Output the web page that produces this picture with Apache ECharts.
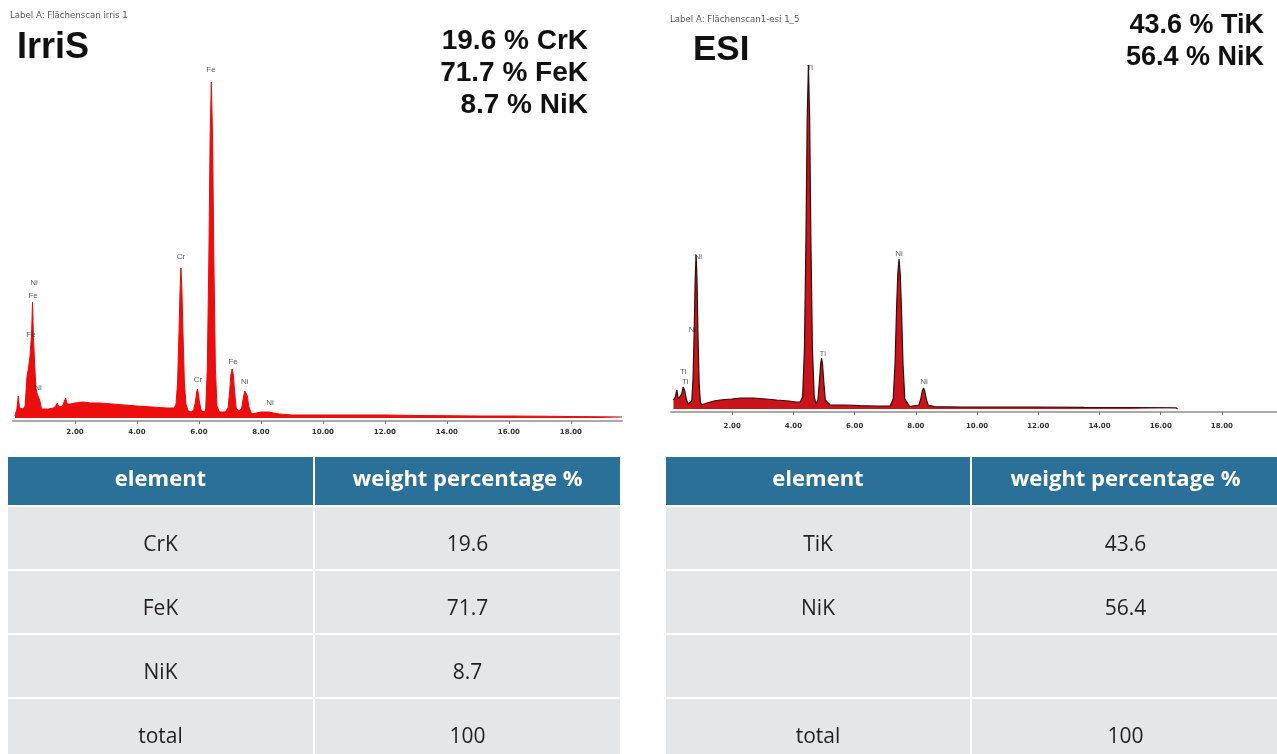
<!DOCTYPE html>
<html><head><meta charset="utf-8">
<script src="https://cdn.jsdelivr.net/npm/echarts@6/dist/echarts.min.js"></script>
<style>html,body{margin:0;padding:0;background:#fff}#c{width:1277px;height:754px}</style>
</head><body><div id="c"></div>
<script>
// ---------- DATA ----------
const xTickValues = [2, 4, 6, 8, 10, 12, 14, 16, 18];

// IrriS spectrum: [energy keV, counts (arb.)]
const irrisSpectrum = [
  [0.06,2],[0.12,8],[0.17,22],[0.21,10],[0.26,8],[0.33,9],[0.39,12],[0.45,41],[0.50,50],[0.55,62],
  [0.60,85],[0.63,116],[0.66,80],[0.70,52],[0.74,30],[0.78,24],[0.82,21],[0.86,18],[0.92,9],[1.00,9],
  [1.15,9],[1.30,10],[1.38,12],[1.43,15],[1.48,11],[1.60,12],[1.66,17],[1.70,20],[1.75,14],[1.85,14],
  [2.00,15],[2.27,16],[2.50,15],[2.80,15],[3.20,14],[3.60,13],[4.00,12],[4.50,11],[4.96,10],[5.20,10],
  [5.26,14],[5.31,35],[5.36,90],[5.39,128],[5.42,150],[5.45,128],[5.48,90],[5.53,35],[5.58,14],[5.65,7],[5.75,6],
  [5.83,8],[5.88,15],[5.92,25],[5.95,29],[5.98,25],[6.02,15],[6.08,7],[6.20,6],
  [6.22,10],[6.27,50],[6.32,160],[6.36,280],[6.40,336],[6.44,280],[6.48,160],[6.53,50],[6.58,12],[6.66,6],[6.85,6],
  [6.94,10],[6.99,26],[7.03,43],[7.07,49],[7.11,43],[7.15,26],[7.20,10],[7.30,7],
  [7.38,10],[7.43,20],[7.48,27],[7.52,28],[7.56,22],[7.61,11],[7.70,4],
  [7.85,5],[8.00,6],[8.15,6],[8.26,6],[8.40,5],[8.60,4],[9.00,3],[10.0,3],[11.0,3],[12.0,3],
  [13.0,2.5],[14.0,2.3],[15.0,2],[16.0,2],[17.0,1.8],[18.0,1.5],[19.0,1.2],[19.65,1]
];
// ESI spectrum
const esiSpectrum = [
  [0.08,9],[0.14,12],[0.19,19],[0.24,10],[0.30,9],[0.35,15],[0.40,22],[0.45,18],[0.50,10],[0.56,5],
  [0.62,4],[0.68,8],[0.72,30],[0.76,80],[0.79,130],[0.82,154],[0.85,130],[0.88,75],[0.92,25],[0.96,7],
  [1.00,4],[1.17,6],[1.40,8],[1.60,9],[1.98,10],[2.30,11],[2.69,11],[3.10,10],[3.45,9],[3.85,8],[4.10,7],[4.22,7],
  [4.30,12],[4.36,60],[4.41,170],[4.45,290],[4.49,344],[4.53,290],[4.57,170],[4.62,60],[4.68,12],[4.74,5],
  [4.80,9],[4.85,28],[4.89,45],[4.92,51],[4.95,45],[4.99,28],[5.04,9],[5.20,4],[5.70,4],[6.18,3.3],[6.70,3],[7.16,3],
  [7.26,10],[7.32,45],[7.37,100],[7.41,135],[7.45,150],[7.49,135],[7.53,100],[7.58,45],[7.64,10],[7.80,2.5],
  [8.10,4],[8.16,10],[8.21,18],[8.25,21],[8.29,18],[8.34,10],[8.40,4],[8.60,2.3],[9.5,2],[10.5,2],
  [12.0,2],[13.5,1.6],[15.0,1.5],[16.5,1.2],[16.55,0]
];

// peak annotations: [energy keV, counts level, element]
const irrisPeakLabels = [
  [6.39,348,'Fe'],[5.42,161,'Cr'],[5.97,38,'Cr'],[7.10,56,'Fe'],[7.48,36,'Ni'],[8.29,15,'Ni'],
  [0.68,135,'Ni'],[0.65,122,'Fe'],[0.58,83,'Fe'],[0.81,30,'Ni']
];
const esiPeakLabels = [
  [4.54,341,'Ti'],[4.96,55,'Ti'],[7.45,155,'Ni'],[8.27,27,'Ni'],
  [0.89,152,'Ni'],[0.70,79,'Ni'],[0.40,37,'Ti'],[0.46,27,'Ti']
];

const irrisTitle = 'IrriS';
const esiTitle = 'ESI';
const irrisScanLabel = 'Label A: Flächenscan irris 1';
const esiScanLabel = 'Label A: Flächenscan1-esi 1_5';
const irrisElements = ['CrK', 'FeK', 'NiK'];
const irrisWeights = [19.6, 71.7, 8.7];
const esiElements = ['TiK', 'NiK'];
const esiWeights = [43.6, 56.4];
const tableHeader = ['element', 'weight percentage %'];
const totalLabel = 'total';
const irrisTotal = 100;
const esiTotal = 100;

// ---------- CHART ----------
const chart = echarts.init(document.getElementById('c'), null, {renderer: 'canvas'});

function xAxisCfg(gridIndex, max, margin) {
  return {
    type: 'value', gridIndex: gridIndex, min: 0, max: max, interval: 2,
    axisLine: {onZero: false, lineStyle: {color: '#a9a9a9', width: 2}},
    axisTick: {show: true, length: 3, customValues: xTickValues, lineStyle: {color: '#777', width: 1}},
    axisLabel: {
      customValues: xTickValues, margin: margin,
      formatter: v => (v > 0 && v < 19 && v % 2 === 0) ? v.toFixed(2) : '',
      fontFamily: 'DejaVu Sans', fontWeight: 'bold', fontSize: 7, color: '#333'
    },
    splitLine: {show: false}
  };
}
function yAxisCfg(gridIndex, max) {
  return {type: 'value', gridIndex: gridIndex, min: -3, max: max, show: false, splitLine: {show: false}};
}
function labelSeries(idx, arr) {
  return {
    type: 'scatter', xAxisIndex: idx, yAxisIndex: idx, symbol: 'circle', symbolSize: 1,
    itemStyle: {color: 'rgba(0,0,0,0)'}, silent: true, z: 5, clip: false,
    data: arr.map(d => ({value: [d[0], d[1]], name: d[2]})),
    label: {show: true, position: 'inside', formatter: p => p.name,
      fontFamily: 'Liberation Sans', fontSize: 8, color: '#333'}
  };
}

// table graphic builder
function buildTable(x0, colW1, colW2, top, rows) {
  const els = [];
  const headH = 48, rowH = 62, gap = 2;
  const headFill = '#2a7099', rowFill = '#e5e6e8';
  const x1 = x0 + colW1 + gap;
  els.push({type: 'rect', shape: {x: x0, y: top, width: colW1, height: headH}, style: {fill: headFill}});
  els.push({type: 'rect', shape: {x: x1, y: top, width: colW2, height: headH}, style: {fill: headFill}});
  const hf = 'bold 22px "Open Sans"';
  els.push({type: 'text', style: {text: tableHeader[0], x: x0 + colW1 / 2, y: top + headH / 2 - 1, align: 'center', verticalAlign: 'middle', fill: '#fff', font: hf}});
  els.push({type: 'text', style: {text: tableHeader[1], x: x1 + colW2 / 2, y: top + headH / 2 - 1, align: 'center', verticalAlign: 'middle', fill: '#fff', font: hf}});
  let y = top + headH + gap;
  rows.forEach(r => {
    els.push({type: 'rect', shape: {x: x0, y: y, width: colW1, height: rowH}, style: {fill: rowFill}});
    els.push({type: 'rect', shape: {x: x1, y: y, width: colW2, height: rowH}, style: {fill: rowFill}});
    const bf = '21px "Open Sans"';
    els.push({type: 'text', style: {text: r[0], x: x0 + colW1 / 2, y: y + rowH / 2 + 7, align: 'center', verticalAlign: 'middle', fill: '#231f20', font: bf}});
    els.push({type: 'text', style: {text: r[1], x: x1 + colW2 / 2, y: y + rowH / 2 + 7, align: 'center', verticalAlign: 'middle', fill: '#231f20', font: bf}});
    y += rowH + gap;
  });
  return els;
}
const irrisRows = irrisElements.map((e, i) => [e, String(irrisWeights[i])]);
const esiRows = esiElements.map((e, i) => [e, String(esiWeights[i])]);
while (esiRows.length < irrisRows.length) esiRows.push(['', '']);
irrisRows.push([totalLabel, String(irrisTotal)]);
esiRows.push([totalLabel, String(esiTotal)]);

const graphics = [];
// scan labels & titles
graphics.push({type: 'text', style: {text: irrisScanLabel, x: 10, y: 16, verticalAlign: 'middle', fill: '#555', font: '8.6px "DejaVu Sans"'}});
graphics.push({type: 'text', style: {text: esiScanLabel, x: 670, y: 19.5, verticalAlign: 'middle', fill: '#555', font: '8.6px "DejaVu Sans"'}});
graphics.push({type: 'text', style: {text: irrisTitle, x: 17, y: 48, verticalAlign: 'middle', fill: '#111', font: 'bold 36px "Liberation Sans"'}});
graphics.push({type: 'text', style: {text: esiTitle, x: 693, y: 50, verticalAlign: 'middle', fill: '#111', font: 'bold 35px "Liberation Sans"'}});
// composition summary
irrisElements.forEach((e, i) => {
  graphics.push({type: 'text', style: {text: irrisWeights[i] + ' % ' + e, x: 588, y: 41 + i * 32, align: 'right', verticalAlign: 'middle', fill: '#111', font: 'bold 28px "Liberation Sans"'}});
});
esiElements.forEach((e, i) => {
  graphics.push({type: 'text', style: {text: esiWeights[i] + ' % ' + e, x: 1264, y: 26 + i * 32, align: 'right', verticalAlign: 'middle', fill: '#111', font: 'bold 27px "Liberation Sans"'}});
});
graphics.push(...buildTable(8, 305, 305, 457, irrisRows));
graphics.push(...buildTable(666, 304, 307, 457, esiRows));

chart.setOption({
  animation: false,
  backgroundColor: '#ffffff',
  grid: [
    {left: 13, width: 609, top: 61, height: 360},
    {left: 671, width: 606, top: 52, height: 360}
  ],
  xAxis: [xAxisCfg(0, 19.65, 8), xAxisCfg(1, 19.8, 11)],
  yAxis: [yAxisCfg(0, 357), yAxisCfg(1, 357)],
  series: [
    {type: 'line', xAxisIndex: 0, yAxisIndex: 0, data: irrisSpectrum, showSymbol: false, symbol: 'none',
      lineStyle: {color: '#ea0a0a', width: 1}, areaStyle: {color: '#ee0d0d', opacity: 1}, z: 2},
    {type: 'line', xAxisIndex: 1, yAxisIndex: 1, data: esiSpectrum, showSymbol: false, symbol: 'none',
      lineStyle: {color: '#3a0808', width: 1.2}, areaStyle: {color: '#c8141a', opacity: 1}, z: 2},
    labelSeries(0, irrisPeakLabels),
    labelSeries(1, esiPeakLabels)
  ],
  graphic: graphics
});
</script>
</body></html>
